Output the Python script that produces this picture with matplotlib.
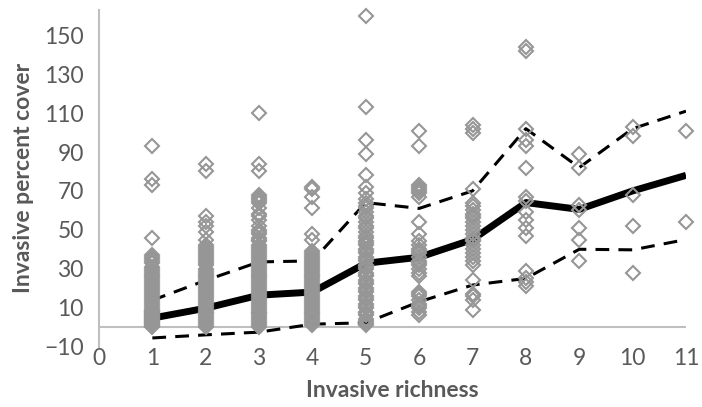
import matplotlib
matplotlib.use("Agg")
import matplotlib.pyplot as plt

# ---- data ----
richness = [1, 2, 3, 4, 5, 6, 7, 8, 9, 10, 11]
mean_cover = [4.6, 9.7, 16.4, 18, 32.8, 35.9, 45, 64, 60.5, 70, 78]
upper_cover = [13.8, 24, 33.5, 34, 64, 61, 70, 102, 82, 102, 111]
lower_cover = [-5.6, -4, -2.6, 1.5, 2.2, 13, 21.6, 25, 40, 39.7, 45]

obs_1 = [93, 76, 73, 46, 37, 36, 35, 34, 33, 31, 30, 29, 28, 27, 26, 25, 24, 23, 22,
         21, 20, 19, 18, 17, 16, 15, 14, 13, 12, 11, 10, 9, 8.5, 8, 7.5, 7, 6.5, 6,
         5.5, 5, 4.5, 4, 3.5, 3, 2.5, 2, 1.5, 1, 0.5, 0]
obs_2 = [84, 80, 57, 54, 52, 49, 45, 42, 41, 40, 39, 38, 37, 36, 35, 34, 33, 32, 30,
         29, 28, 27, 26, 25, 24, 23, 22, 21, 20, 19, 18, 17, 16, 15, 14, 13, 12, 11,
         10, 9, 8, 7, 6, 5, 4, 3, 2, 1, 0]
obs_3 = [110, 84, 80, 68, 67, 66, 65, 64, 61, 58, 57, 55, 52, 50, 49, 48, 46, 45, 44,
         42, 41, 40, 39, 38, 37, 36, 35, 34, 33, 32, 31, 30, 29, 28, 27, 26, 25, 24,
         23, 22, 21, 20, 19, 18, 17, 16, 15, 14, 13, 12, 11, 10, 9, 8, 7, 6, 5, 4,
         3, 2, 1, 0]
obs_4 = [72, 71, 67, 61, 48, 45, 39, 38, 37, 36, 35, 34, 33, 32, 31, 30, 29, 28, 27,
         26, 25, 24, 23, 22, 21, 20, 19, 18, 17, 16, 15, 14, 13, 12, 11, 10, 9, 8,
         7, 6, 5, 4, 3, 2, 1]
obs_5 = [160, 113, 96, 89, 78, 72, 69, 66, 64, 62, 61, 59, 57, 56, 54, 52, 51, 49, 47,
         46, 44, 43, 42, 40, 39, 38, 36, 35, 34, 32, 31, 30, 28, 27, 26, 24, 23, 22,
         20, 19, 18, 16, 15, 14, 12, 11, 10, 8, 7, 6, 4, 3, 2, 1]
obs_6 = [101, 93, 73, 72, 71, 70, 69, 67, 54, 48, 44, 42, 40, 39, 38, 36, 34, 33, 32,
         30, 28, 26, 18, 17, 16, 14, 12, 11, 10, 8, 6]
obs_7 = [104, 102, 100, 71, 64, 62, 60, 58, 57, 56, 54, 52, 50, 48, 46, 45, 44, 42,
         40, 38, 36, 34, 32, 24, 17, 16, 14, 9]
obs_8 = [144, 142, 102, 96, 93, 82, 67, 65, 59, 55, 51, 47, 29, 25, 23, 21]
obs_9 = [89, 82, 63, 60, 51, 45, 34]
obs_10 = [103, 98, 68, 52, 28]
obs_11 = [101, 54]
observations = [obs_1, obs_2, obs_3, obs_4, obs_5, obs_6, obs_7, obs_8, obs_9, obs_10, obs_11]

y_ticks = [-10, 10, 30, 50, 70, 90, 110, 130, 150]
x_ticks = [0, 1, 2, 3, 4, 5, 6, 7, 8, 9, 10, 11]

plt.rcParams['font.family'] = ['Lato', 'DejaVu Sans']

fig = plt.figure(figsize=(7.02, 4.07), dpi=100)
ax = fig.add_axes([0.141, 0.1486, 0.8362, 0.8268])

grey = '#bfbfbf'
ax.axhline(0, color=grey, lw=1.5, zorder=1)

ax.plot(richness, mean_cover, color='black', lw=5, solid_capstyle='butt', zorder=2)
ax.plot(richness, upper_cover, color='black', lw=2.2, dashes=(4.5, 3), zorder=2)
ax.plot(richness, lower_cover, color='black', lw=2.2, dashes=(4.5, 3), zorder=2)

for xv, vals in zip(richness, observations):
    ax.plot([xv] * len(vals), vals, linestyle='none', marker='D', ms=7,
            markerfacecolor='none', markeredgecolor='#969696', markeredgewidth=1.5,
            clip_on=False, zorder=3)

ax.set_xlim(0, 11)
ax.set_ylim(-10, 163)
ax.set_xticks(x_ticks)
ax.set_yticks(y_ticks)
ax.tick_params(axis='both', length=0, labelsize=16.5, colors='#595959')
ax.tick_params(axis='y', pad=11)
ax.tick_params(axis='x', pad=1)

for s in ['top', 'right', 'bottom']:
    ax.spines[s].set_visible(False)
ax.spines['left'].set_color(grey)
ax.spines['left'].set_linewidth(1.5)

ax.set_xlabel('Invasive richness', fontsize=16.5, fontweight='bold', color='#595959', labelpad=8)
ax.set_ylabel('Invasive percent cover', fontsize=16.5, fontweight='bold', color='#595959', labelpad=7)

fig.savefig('out.png', dpi=100)
